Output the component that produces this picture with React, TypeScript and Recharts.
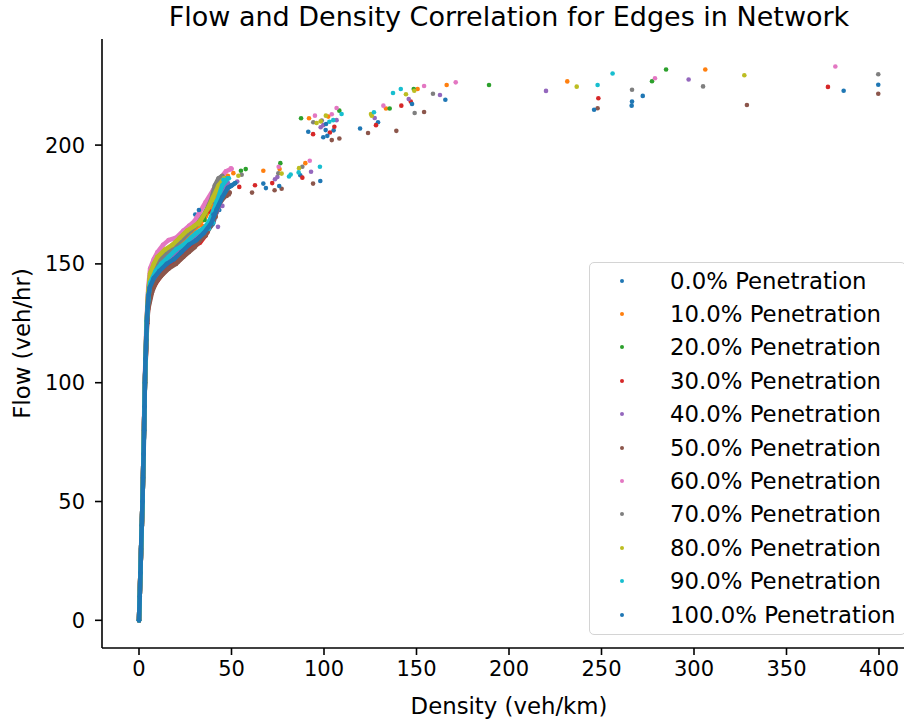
import { ScatterChart, Scatter, XAxis, YAxis, Legend } from "recharts";

const X_TICKS = [0, 50, 100, 150, 200, 250, 300, 350, 400];
const Y_TICKS = [0, 50, 100, 150, 200];

const SERIES_NAMES = [
  "0.0% Penetration",
  "10.0% Penetration",
  "20.0% Penetration",
  "30.0% Penetration",
  "40.0% Penetration",
  "50.0% Penetration",
  "60.0% Penetration",
  "70.0% Penetration",
  "80.0% Penetration",
  "90.0% Penetration",
  "100.0% Penetration",
];

// matplotlib tab10 cycle
const COLORS = [
  "#1f77b4", "#ff7f0e", "#2ca02c", "#d62728", "#9467bd",
  "#8c564b", "#e377c2", "#7f7f7f", "#bcbd22", "#17becf", "#1f77b4",
];

// dense part of each run: [density, flow], read along the packed band
const band0 = [[0, 0], [1.9, 50], [3.2, 100], [4.3, 126], [5, 133], [6.5, 140], [9, 144], [12, 147], [16, 150], [20, 152], [24, 155], [28, 158], [32, 160], [36, 163], [40, 167], [42, 172], [44, 177], [46, 181], [50, 183]];
const band10 = [[0, 0], [1.9, 50], [3.2, 100], [4.2, 124], [5, 137], [6, 144], [9, 149], [12, 152], [16, 155], [20, 157], [24, 160], [28, 163], [32, 166], [36, 170], [40, 176], [44, 182], [48, 187]];
const band20 = [[0, 0], [1.9, 50], [3.2, 100], [4.1, 125], [5, 138], [6, 145], [9, 150], [12, 153], [16, 156], [20, 158], [24, 162], [28, 165], [31, 167], [35, 170], [38, 175], [42, 182], [46, 186]];
const band30 = [[0, 0], [1.9, 50], [3.2, 100], [4.3, 125], [5, 132], [7, 139], [10, 143], [13, 146], [17, 149], [21, 151], [25, 154], [29, 157], [33, 159], [36, 162], [38, 166], [40, 171], [44, 178], [47, 180]];
const band40 = [[0, 0], [1.9, 50], [3.2, 100], [4.2, 125], [5, 134], [6.5, 141], [9, 145], [12, 148], [16, 151], [20, 154], [24, 157], [28, 160], [32, 162], [36, 164], [40, 168], [43, 174], [46, 180], [48, 184]];
const band50 = [[0, 0], [1.9, 50], [3.2, 100], [4.4, 125], [5, 131], [7, 138], [9, 142], [12, 145], [16, 148], [20, 150], [24, 153], [27, 155], [30, 157], [33, 160], [36, 162], [40, 168], [43, 175], [46, 178], [49, 180]];
const band60 = [[0, 0], [1.9, 50], [3.1, 100], [4.0, 125], [5, 140], [6, 148], [8, 152], [10, 155], [13, 158], [16, 160], [20, 161], [24, 164], [27, 166], [30, 168], [33, 172], [36, 176], [40, 181], [43, 185], [47, 189], [50, 190]];
const band70 = [[0, 0], [1.9, 50], [3.2, 100], [4.1, 125], [5, 137], [6, 144], [9, 149], [12, 152], [16, 155], [20, 158], [24, 161], [28, 164], [32, 167], [36, 172], [39, 177], [41, 183], [43, 186], [45, 187]];
const band80 = [[0, 0], [1.9, 50], [3.2, 100], [4.1, 125], [5, 138], [6, 146], [8, 150], [10, 153], [14, 156], [18, 158], [22, 161], [26, 164], [30, 166], [33, 168], [37, 173], [40, 178], [43, 183], [46, 186]];
const band90 = [[0, 0], [1.9, 50], [3.2, 100], [4.2, 126], [5, 135], [6, 142], [9, 147], [12, 150], [16, 153], [20, 156], [24, 158], [28, 161], [31, 163], [35, 165], [38, 168], [42, 176], [45, 183], [48, 186]];
const band100 = [[0, 0], [0.4, 10], [0.8, 20], [1.1, 30], [1.5, 40], [1.9, 50], [2.2, 60], [2.5, 70], [2.8, 80], [3.0, 90], [3.2, 100], [3.5, 110], [3.9, 118], [4.3, 126], [4.7, 132], [5.2, 137], [5.8, 140], [8, 144], [11, 147], [15, 150], [19, 152], [23, 155], [27, 158], [31, 160], [35, 163], [39, 167], [42, 173], [45, 178], [48, 182], [52, 184]];

// loose points (free-flow tail)
const pts0 = [[30.4, 170.8], [43.4, 172.7], [67.2, 183.8], [87.2, 187.3], [91.5, 205.6], [100.9, 206.3], [105.2, 206.2], [129.2, 209.6], [165.6, 219.1], [266.5, 218.3], [272.3, 220.7], [399.6, 225.4]];
const pts10 = [[34.1, 166], [38.4, 177.5], [51, 188.2], [67.2, 189.2], [76, 189.9], [89.9, 192.4], [91.9, 211.3], [102.3, 212], [133.5, 215.4], [150.6, 223.6], [166.3, 225.3], [231.5, 226.8], [306.1, 231.8]];
const pts20 = [[35.5, 168.5], [55.1, 189.2], [57.7, 189.9], [76.4, 192.4], [87.6, 211.3], [108.3, 214.5], [135.5, 215.4], [148.5, 223.6], [189.2, 225.3], [277.3, 226.9], [284.9, 231.8]];
const pts30 = [[37.1, 163.4], [38.4, 172], [39.8, 172], [47.9, 179.7], [54.2, 182.4], [62.7, 183.1], [72, 184], [88.3, 186.3], [94.1, 204.6], [103.2, 205.3], [105.6, 207.7], [128.1, 208.4], [141.8, 216.6], [146.9, 218.3], [248.3, 219.7], [372.4, 224.5]];
const pts40 = [[42.7, 165.6], [43.5, 174.4], [45.1, 174.4], [48.3, 183.5], [53.1, 184.7], [73.5, 185.6], [74.8, 186.6], [93, 188.8], [98.2, 207.5], [99.6, 208.4], [106.8, 210.5], [127.4, 211.4], [145.8, 219.4], [162.7, 221.1], [220, 222.8], [297.1, 227.6]];
const pts50 = [[41.5, 169.8], [47.4, 178.6], [48.6, 179.2], [61.1, 180], [73.3, 181], [77.1, 181.6], [94.1, 183.8], [104.2, 202.1], [108.3, 202.8], [123.8, 205.1], [139.1, 206], [154.1, 213.9], [247.9, 215.5], [328.6, 216.9], [399.6, 221.6]];
const pts60 = [[33.7, 169.8], [39.5, 178.6], [49.6, 190.2], [75.5, 190.9], [92.3, 193.4], [95.1, 212.4], [104.2, 213], [106.8, 215.6], [132.1, 216.6], [154.1, 224.9], [171.2, 226.4], [278.9, 228.1], [376.4, 233.1]];
const pts70 = [[39.8, 176.1], [55.5, 187.5], [75.3, 188.1], [88.3, 190.9], [94.2, 209.6], [98.8, 210.3], [149, 213.5], [158.9, 221.6], [266.5, 223.3], [304.9, 224.7], [399.6, 229.8]];
const pts80 = [[32, 166.7], [40.5, 176.9], [53.7, 187.1], [77.1, 188], [86.5, 190.3], [96, 209.3], [98.2, 210], [101, 212.4], [125.4, 213.1], [125.8, 212.4], [144.3, 221.4], [148.8, 222.9], [236.6, 224.6], [327.2, 229.4]];
const pts90 = [[37.8, 164.8], [40, 167.3], [42, 176.5], [45.6, 185.4], [48.6, 186], [81.1, 186.8], [82, 187.6], [86.3, 188.5], [97.8, 190.9], [102.9, 209.8], [105, 210.5], [109.5, 213.1], [127, 213.8], [137.3, 221.9], [141.5, 223.6], [247.9, 225.3], [256, 230.1]];
const pts100 = [[32.4, 172.7], [40.2, 170.8], [68.6, 181.9], [75.8, 182.8], [98, 184.9], [99.6, 203.3], [101.8, 203.9], [101.1, 208.9], [119.5, 207], [147.6, 217.3], [246, 214.9], [266.3, 216.6], [380.9, 222.9]];

const BANDS = [band0, band10, band20, band30, band40, band50, band60, band70, band80, band90, band100];
const POINTS = [pts0, pts10, pts20, pts30, pts40, pts50, pts60, pts70, pts80, pts90, pts100];

const toRows = (rows: number[][]) => rows.map(([density, flow]) => ({ density, flow }));

const FONT = "'DejaVu Sans', sans-serif";

const dot = (color: string) => (props: any) =>
  <circle cx={props.cx} cy={props.cy} r={2.3} fill={color} />;

const LegendBox = () => (
  <div
    style={{
      width: 317,
      boxSizing: "border-box",
      border: "1.5px solid #d4d4d4",
      borderRadius: 5,
      background: "rgba(255,255,255,0.8)",
      padding: "1px 0 3px 0",
      fontFamily: FONT,
      fontSize: 22.8,
      color: "#000",
      whiteSpace: "nowrap",
    }}
  >
    {SERIES_NAMES.map((name, i) => (
      <div key={name} style={{ height: 33.4, display: "flex", alignItems: "center" }}>
        <span
          style={{
            display: "inline-block",
            flex: "none",
            width: 4,
            height: 4,
            borderRadius: 2,
            background: COLORS[i],
            marginLeft: 30,
            marginRight: 46,
          }}
        />
        {name}
      </div>
    ))}
  </div>
);

export default function App() {
  return (
    <div
      style={{
        position: "absolute",
        left: 0,
        top: 0,
        width: 904,
        height: 719,
        overflow: "hidden",
        background: "#fff",
        fontFamily: FONT,
      }}
    >
      <div
        style={{
          position: "absolute",
          left: 0,
          top: 1,
          width: 1018,
          textAlign: "center",
          fontSize: 27,
          lineHeight: "32px",
          color: "#000",
        }}
      >
        Flow and Density Correlation for Edges in Network
      </div>
      <ScatterChart width={930} height={719} margin={{ top: 39, right: 14, bottom: 0, left: 0 }}>
        <XAxis
          xAxisId="top"
          orientation="top"
          type="number"
          dataKey="density"
          domain={[-20, 420]}
          height={0}
          tick={false}
          tickLine={false}
          axisLine={{ stroke: "#000", strokeWidth: 1.6 }}
        />
        <XAxis
          type="number"
          dataKey="density"
          domain={[-20, 420]}
          ticks={X_TICKS}
          height={71}
          tickSize={7}
          tickMargin={6}
          tick={{ fill: "#000", fontSize: 21 }}
          tickLine={{ stroke: "#000", strokeWidth: 1.6 }}
          axisLine={{ stroke: "#000", strokeWidth: 1.6 }}
          label={{ value: "Density (veh/km)", position: "insideBottom", offset: 5, fill: "#000", fontSize: 22.8 }}
        />
        <YAxis
          type="number"
          dataKey="flow"
          domain={[-11.65, 244.65]}
          ticks={Y_TICKS}
          width={102}
          tickSize={7}
          tickMargin={10}
          tick={{ fill: "#000", fontSize: 21 }}
          tickLine={{ stroke: "#000", strokeWidth: 1.6 }}
          axisLine={{ stroke: "#000", strokeWidth: 1.6 }}
          label={{
            value: "Flow (veh/hr)",
            angle: -90,
            position: "insideLeft",
            offset: 22,
            fill: "#000",
            fontSize: 22.8,
            style: { textAnchor: "middle" },
          }}
        />
        <Legend
          layout="vertical"
          align="center"
          verticalAlign="middle"
          content={() => <LegendBox />}
          wrapperStyle={{ left: 589, top: 262, width: 317 }}
        />
        {SERIES_NAMES.map((name, i) => [
          <Scatter
            key={`${name}-band`}
            data={toRows(BANDS[i])}
            fill={COLORS[i]}
            shape={dot(COLORS[i])}
            line={{ stroke: COLORS[i], strokeWidth: 4.5, strokeLinecap: "round", strokeLinejoin: "round" }}
            isAnimationActive={false}
            legendType="none"
          />,
          <Scatter
            key={`${name}-pts`}
            name={name}
            data={toRows(POINTS[i])}
            fill={COLORS[i]}
            shape={dot(COLORS[i])}
            isAnimationActive={false}
          />,
        ])}
      </ScatterChart>
    </div>
  );
}
